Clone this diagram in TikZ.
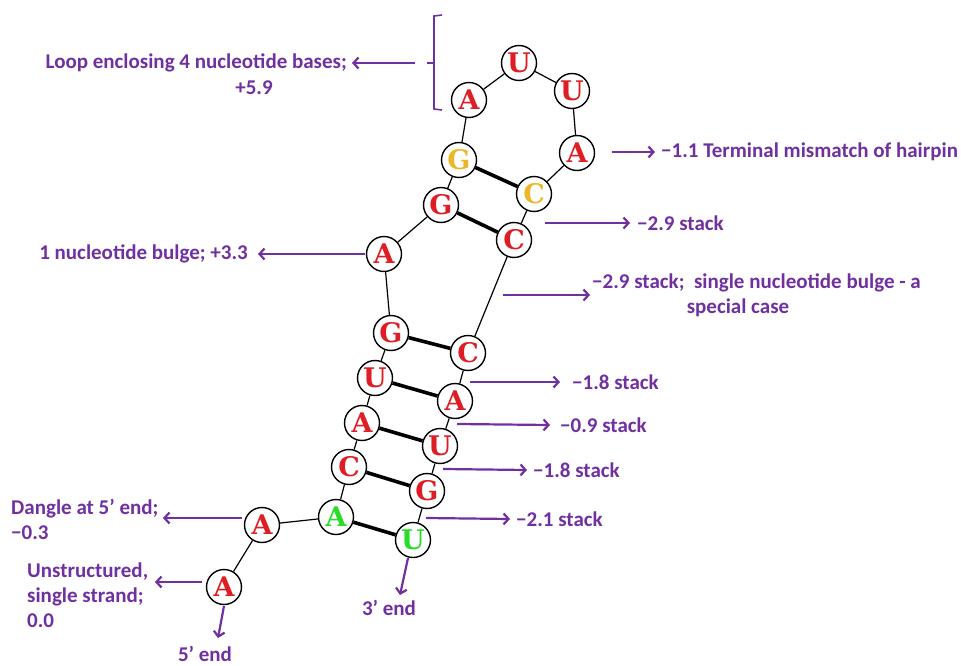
\documentclass[tikz,border=0pt]{standalone}
\usepackage{fontspec}
\setmainfont{Carlito}
\newfontfamily\basefont{DejaVu Serif}
\usetikzlibrary{arrows.meta}
\definecolor{lblpurple}{RGB}{112,48,160}
\definecolor{basered}{RGB}{222,30,36}
\definecolor{baseyellow}{RGB}{236,182,40}
\definecolor{basegreen}{RGB}{40,220,40}
\begin{document}
\begin{tikzpicture}[x=1pt,y=-1pt,
  nt/.style={circle,draw=black,line width=1.4pt,fill=white,minimum size=35pt,inner sep=0pt,
    font=\basefont\bfseries\fontsize{27}{27}\selectfont,text=basered},
  ntY/.style={nt,text=baseyellow},
  ntG/.style={nt,text=basegreen},
  backbone/.style={draw=black,line width=1.2pt},
  pair/.style={draw=black,line width=3.6pt},
  note/.style={draw=lblpurple,line width=2.2pt,-{Straight Barb[length=5pt,width=11pt]}},
  lbl/.style={text=lblpurple,font=\bfseries\fontsize{21}{25}\selectfont,inner sep=0pt}]
\useasboundingbox (0,0) rectangle (961,666);

% nucleotides, 5' to 3'
\node[nt]  (n1)  at (224,587) {A};
\node[nt]  (n2)  at (262,525) {A};
\node[ntG] (n3)  at (336,517) {A};
\node[nt]  (n4)  at (349,467) {C};
\node[nt]  (n5)  at (362,423) {A};
\node[nt]  (n6)  at (375,378) {U};
\node[nt]  (n7)  at (391,333) {G};
\node[nt]  (n8)  at (384,254) {A};
\node[nt]  (n9)  at (441,205) {G};
\node[ntY] (n10) at (459,160) {G};
\node[nt]  (n11) at (469,100) {A};
\node[nt]  (n12) at (519,63)  {U};
\node[nt]  (n13) at (572,91)  {U};
\node[nt]  (n14) at (577,153) {A};
\node[ntY] (n15) at (534,194) {C};
\node[nt]  (n16) at (514,240) {C};
\node[nt]  (n17) at (468,353) {C};
\node[nt]  (n18) at (455,401) {A};
\node[nt]  (n19) at (440,446) {U};
\node[nt]  (n20) at (427,491) {G};
\node[ntG] (n21) at (413,540) {U};

% backbone
\foreach \a/\b in {n1/n2,n2/n3,n3/n4,n4/n5,n5/n6,n6/n7,n7/n8,n8/n9,n9/n10,n10/n11,
  n11/n12,n12/n13,n13/n14,n14/n15,n15/n16,n16/n17,n17/n18,n18/n19,n19/n20,n20/n21}
  \path[backbone] (\a) -- (\b);

% base pairs
\foreach \a/\b in {n10/n15,n9/n16,n7/n17,n6/n18,n5/n19,n4/n20,n3/n21}
  \path[pair] (\a) -- (\b);

% hairpin loop bracket
\draw[lblpurple,line width=1.6pt] (442,15) -- (434,16) -- (434,109) -- (442,110);
\draw[lblpurple,line width=1.6pt] (427,63) -- (434,63);

% labels
\node[lbl,anchor=east] (loop)  at (347,63)  {Loop enclosing 4 nucleotide bases;};
\node[lbl]             (loopv) at (254,88)  {+5.9};
\node[lbl,anchor=west] (term)  at (661,152) {−1.1 Terminal mismatch of hairpin};
\node[lbl,anchor=west] (st1)   at (637,223) {−2.9 stack};
\node[lbl,anchor=west] (st2)   at (592,283) {−2.9 stack;\ \ single nucleotide bulge - a};
\node[lbl]             (st2b)  at (738,308) {special case};
\node[lbl,anchor=west] (st3)   at (572,382) {−1.8 stack};
\node[lbl,anchor=west] (st4)   at (560,425) {−0.9 stack};
\node[lbl,anchor=west] (st5)   at (533,470) {−1.8 stack};
\node[lbl,anchor=west] (st6)   at (516,519) {−2.1 stack};
\node[lbl,anchor=east] (bulge) at (248,254) {1 nucleotide bulge; +3.3};
\node[lbl,anchor=west,align=left] (dangle) at (11,519) {Dangle at 5’ end;\\−0.3};
\node[lbl,anchor=west,align=left] (unstr)  at (27,595) {Unstructured,\\single strand;\\0.0};
\node[lbl] (end3) at (389,608) {3’ end};
\node[lbl] (end5) at (205,654) {5’ end};

% arrow ends
\coordinate (cLoop)  at (415,63);
\coordinate (cTerm)  at (612,152);
\coordinate (cSt1)   at (545,223);
\coordinate (cSt2)   at (503,295);
\coordinate (cSt3)   at (470,382);
\coordinate (cSt4)   at (457,424);
\coordinate (cSt5)   at (443,469);
\coordinate (cSt6)   at (426,518);
\coordinate (cBulge) at (365,254);
\coordinate (cDang)  at (242,518);
\coordinate (cUnstr) at (202,582);
\coordinate (tDang)  at (163,518);
\coordinate (tUnstr) at (155,582);
\coordinate (tSt2)   at (590,295);
\coordinate (c3a)    at (408,558);
\coordinate (c3b)    at (400,595);
\coordinate (c5a)    at (224,606);
\coordinate (c5b)    at (218,638);

\draw[note] (cLoop) -- ([xshift=5pt]loop.east);
\draw[note] (cTerm) -- ([xshift=-6pt]term.west);
\draw[note] (cSt1) -- ([xshift=-7pt]st1.west);
\draw[note] (cSt2) -- (tSt2);
\draw[note] (cSt3) -- ([xshift=-12pt]st3.west);
\draw[note] (cSt4) -- ([xshift=-10pt]st4.west);
\draw[note] (cSt5) -- ([xshift=-6pt]st5.west);
\draw[note] (cSt6) -- ([xshift=-6pt]st6.west);
\draw[note] (cBulge) -- ([xshift=10pt]bulge.east);
\draw[note] (cDang) -- (tDang);
\draw[note] (cUnstr) -- (tUnstr);
\draw[note] (c3a) -- (c3b);
\draw[note] (c5a) -- (c5b);
\end{tikzpicture}
\end{document}
